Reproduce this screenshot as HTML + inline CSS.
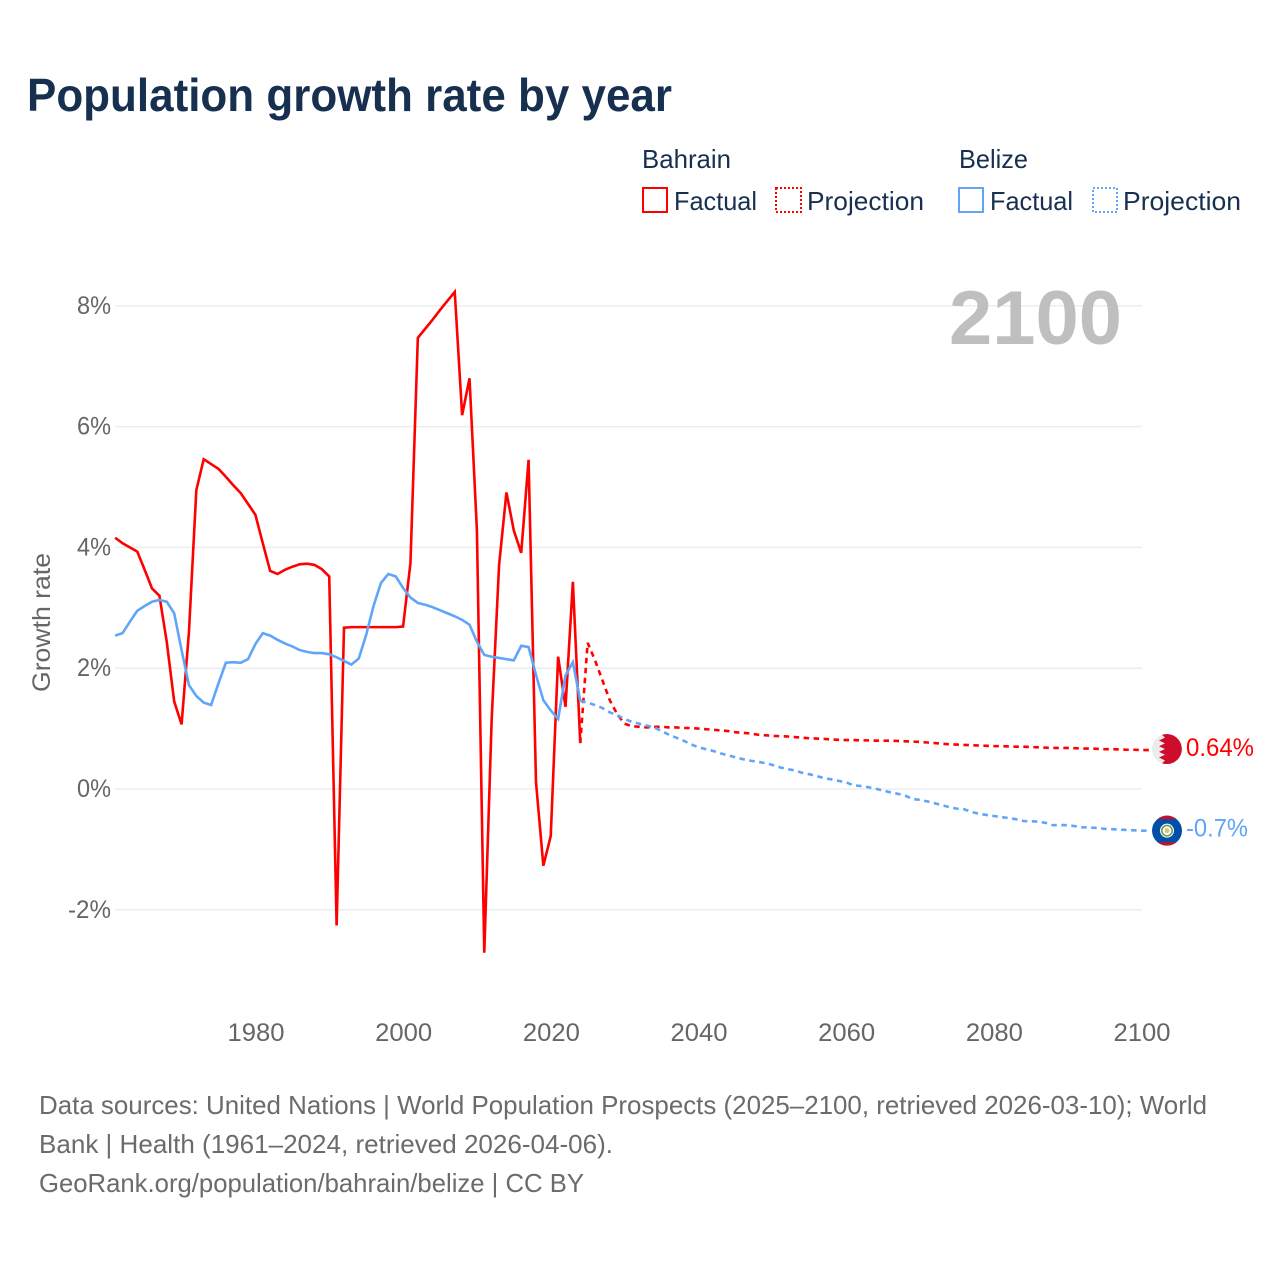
<!DOCTYPE html>
<html lang="en">
<head>
<meta charset="utf-8">
<title>Population growth rate by year</title>
<style>
html,body{margin:0;padding:0;background:#fff;}
svg{display:block;}
text{font-family:"Liberation Sans",sans-serif;}
</style>
</head>
<body>
<svg id="chart" width="1280" height="1280" viewBox="0 0 1280 1280" xmlns="http://www.w3.org/2000/svg">
<rect width="1280" height="1280" fill="#fff"/>
<text x="27" y="111" font-size="46" font-weight="700" fill="#18304f" textLength="645" lengthAdjust="spacingAndGlyphs">Population growth rate by year</text>

<g font-size="26" fill="#18304f">
<text x="642" y="168" textLength="89" lengthAdjust="spacingAndGlyphs">Bahrain</text>
<text x="959" y="168" textLength="69" lengthAdjust="spacingAndGlyphs">Belize</text>
<rect x="643" y="188" width="24" height="24" fill="none" stroke="#ff0000" stroke-width="2"/>
<text x="674" y="210" textLength="83" lengthAdjust="spacingAndGlyphs">Factual</text>
<rect x="776" y="188" width="25" height="24" fill="none" stroke="#ff0000" stroke-width="2" stroke-dasharray="2 2"/>
<text x="807" y="210" textLength="117" lengthAdjust="spacingAndGlyphs">Projection</text>
<rect x="959" y="188" width="24" height="24" fill="none" stroke="#60a5fa" stroke-width="2"/>
<text x="990" y="210" textLength="83" lengthAdjust="spacingAndGlyphs">Factual</text>
<rect x="1093" y="188" width="24" height="24" fill="none" stroke="#60a5fa" stroke-width="2" stroke-dasharray="2 2"/>
<text x="1123" y="210" textLength="118" lengthAdjust="spacingAndGlyphs">Projection</text>
</g>

<g id="grid"></g>
<g id="yticks"></g>
<g id="xticks"></g>

<text x="949" y="344" font-size="76" font-weight="700" fill="#bfbfbf" textLength="173" lengthAdjust="spacingAndGlyphs">2100</text>
<text transform="translate(50,622.5) rotate(-90)" text-anchor="middle" font-size="25" fill="#666666" textLength="139" lengthAdjust="spacingAndGlyphs">Growth rate</text>

<g id="series"></g>
<g id="ends"></g>

<g font-size="26" fill="#6b6b6b">
<text x="39" y="1114" textLength="1168" lengthAdjust="spacingAndGlyphs">Data sources: United Nations | World Population Prospects (2025–2100, retrieved 2026-03-10); World</text>
<text x="39" y="1153" textLength="574" lengthAdjust="spacingAndGlyphs">Bank | Health (1961–2024, retrieved 2026-04-06).</text>
<text x="39" y="1192" textLength="545" lengthAdjust="spacingAndGlyphs">GeoRank.org/population/bahrain/belize | CC BY</text>
</g>
</svg>
<script>
const yTickValues = [-2, 0, 2, 4, 6, 8];
const yTickLabels = ["-2%", "0%", "2%", "4%", "6%", "8%"];
const xTickYears = [1980, 2000, 2020, 2040, 2060, 2080, 2100];
const factualStartYear = 1961;
const projectionStartYear = 2024;
const bahrainFactual = [4.16,4.07,4.0,3.93,3.63,3.32,3.2,2.43,1.45,1.07,2.6,4.95,5.46,5.38,5.3,5.17,5.03,4.9,4.72,4.54,4.07,3.61,3.56,3.63,3.68,3.72,3.73,3.71,3.64,3.52,-2.26,2.67,2.68,2.68,2.68,2.68,2.68,2.68,2.68,2.69,3.74,7.47,7.62,7.77,7.93,8.08,8.23,6.19,6.8,4.29,-2.71,1.15,3.7,4.91,4.28,3.91,5.45,0.12,-1.27,-0.78,2.19,1.36,3.43,0.76];
const belizeFactual = [2.54,2.58,2.77,2.95,3.03,3.10,3.13,3.10,2.91,2.30,1.72,1.54,1.43,1.39,1.75,2.09,2.10,2.09,2.15,2.40,2.58,2.54,2.47,2.41,2.36,2.30,2.27,2.25,2.25,2.23,2.18,2.12,2.06,2.16,2.55,3.03,3.41,3.56,3.52,3.33,3.17,3.08,3.05,3.01,2.96,2.91,2.86,2.80,2.72,2.44,2.22,2.19,2.17,2.15,2.13,2.37,2.35,1.89,1.47,1.30,1.16,1.88,2.10,1.46];
const bahrainProjection = [0.76,2.42,2.13,1.8,1.47,1.24,1.08,1.04,1.03,1.02,1.03,1.03,1.02,1.02,1.01,1.01,1.00,0.99,0.98,0.97,0.96,0.94,0.93,0.92,0.90,0.89,0.88,0.875,0.87,0.86,0.85,0.84,0.835,0.83,0.82,0.815,0.81,0.81,0.805,0.805,0.80,0.80,0.80,0.795,0.79,0.785,0.78,0.77,0.76,0.75,0.74,0.735,0.73,0.725,0.72,0.715,0.71,0.71,0.705,0.70,0.70,0.695,0.69,0.685,0.68,0.68,0.68,0.675,0.67,0.67,0.665,0.66,0.66,0.655,0.65,0.65,0.645];
const belizeProjection = [1.46,1.43,1.39,1.34,1.27,1.22,1.16,1.11,1.08,1.05,1.02,0.96,0.90,0.85,0.80,0.74,0.69,0.66,0.63,0.59,0.56,0.525,0.495,0.47,0.45,0.43,0.40,0.36,0.33,0.31,0.27,0.245,0.215,0.18,0.16,0.135,0.11,0.06,0.05,0.03,0.005,-0.025,-0.055,-0.08,-0.11,-0.165,-0.18,-0.205,-0.235,-0.27,-0.30,-0.325,-0.335,-0.38,-0.41,-0.43,-0.447,-0.465,-0.48,-0.50,-0.53,-0.535,-0.54,-0.56,-0.60,-0.596,-0.60,-0.615,-0.634,-0.638,-0.645,-0.66,-0.665,-0.672,-0.678,-0.684,-0.69];
const endLabels = ["0.64%", "-0.7%"];

const NS = "http://www.w3.org/2000/svg";
const RED = "#ff0000";
const BLUE = "#60a5fa";
function xScale(year) { return 255.4 + (year - 1980) * (1142 - 256) / 120; }
function yScale(value) { return 789 - value * 60.4; }
function make(tag, parent, attrs) {
  const el = document.createElementNS(NS, tag);
  for (const k in attrs) el.setAttribute(k, attrs[k]);
  parent.appendChild(el);
  return el;
}
const grid = document.getElementById("grid");
const yticks = document.getElementById("yticks");
const xticks = document.getElementById("xticks");
const seriesG = document.getElementById("series");
const ends = document.getElementById("ends");

function labelWidth(s) {
  let w = 0;
  for (const c of s) w += c === "%" ? 19.75 : c === "-" ? 9 : c === "." ? 6.5 : 14.25;
  return w;
}

yTickValues.forEach(function (v, i) {
  const line = make("line", grid, {x1: 115, x2: 1142, y1: yScale(v), y2: yScale(v), stroke: "#ededed", "stroke-width": 1.5});
  
  
  const t = make("text", yticks, {x: 111 - labelWidth(yTickLabels[i]), y: yScale(v) + 8, "font-size": 25, fill: "#666666", textLength: labelWidth(yTickLabels[i]), lengthAdjust: "spacingAndGlyphs"});
  t.textContent = yTickLabels[i];
  
  
});

xTickYears.forEach(function (yr) {
  const t = make("text", xticks, {x: xScale(yr) + 0.6, y: 1041, "font-size": 25, fill: "#666666", "text-anchor": "middle", textLength: 57, lengthAdjust: "spacingAndGlyphs"});
  t.textContent = String(yr);
  
  
});

function linePath(startYear, values, extraX) {
  let d = "";
  values.forEach(function (v, i) {
    d += (i ? "L" : "M") + xScale(startYear + i).toFixed(2) + "," + yScale(v).toFixed(2);
  });
  if (extraX !== undefined) {
    d += "L" + extraX + "," + yScale(values[values.length - 1]).toFixed(2);
  }
  return d;
}

const bFact = make("path", seriesG, {d: linePath(factualStartYear, bahrainFactual), fill: "none", stroke: RED, "stroke-width": 2.6});


const bProj = make("path", seriesG, {d: linePath(projectionStartYear, bahrainProjection, 1150), fill: "none", stroke: RED, "stroke-width": 2.6, "stroke-dasharray": "5.5 4.5"});


const zFact = make("path", seriesG, {d: linePath(factualStartYear, belizeFactual), fill: "none", stroke: BLUE, "stroke-width": 2.6});


const zProj = make("path", seriesG, {d: linePath(projectionStartYear, belizeProjection, 1150), fill: "none", stroke: BLUE, "stroke-width": 2.6, "stroke-dasharray": "5.5 4.5"});



const flagX = 1167;
const bahrainY = yScale(bahrainProjection[bahrainProjection.length - 1]) - 1;
const belizeY = yScale(belizeProjection[belizeProjection.length - 1]);

/* Bahrain flag */
const bFlag = make("g", ends, {});


make("circle", bFlag, {cx: flagX, cy: bahrainY, r: 15, fill: "#ececec"});
const cy = bahrainY;
make("path", bFlag, {
  d: "M" + (flagX - 5) + "," + (cy - 14.2) + "A15,15 0 1 1 " + (flagX - 5) + "," + (cy + 14.2) +
     "L" + (flagX - 2) + "," + (cy + 11.4) + "L" + (flagX - 8) + "," + (cy + 8.5) +
     "L" + (flagX - 2) + "," + (cy + 5.7) + "L" + (flagX - 8) + "," + (cy + 2.8) +
     "L" + (flagX - 2) + "," + cy + "L" + (flagX - 8) + "," + (cy - 2.8) +
     "L" + (flagX - 2) + "," + (cy - 5.7) + "L" + (flagX - 8) + "," + (cy - 8.5) +
     "L" + (flagX - 2) + "," + (cy - 11.4) + "Z",
  fill: "#d00c2c"
});

/* Belize flag */
const zFlag = make("g", ends, {});


make("circle", zFlag, {cx: flagX, cy: belizeY, r: 15, fill: "#0050a8"});
make("path", zFlag, {d: "M" + (flagX - 9.5) + "," + (belizeY - 11.6) + "A15,15 0 0 1 " + (flagX + 9.5) + "," + (belizeY - 11.6) + "Z", fill: "#c8102e"});
make("path", zFlag, {d: "M" + (flagX - 9.5) + "," + (belizeY + 11.6) + "A15,15 0 0 0 " + (flagX + 9.5) + "," + (belizeY + 11.6) + "Z", fill: "#c8102e"});
make("circle", zFlag, {cx: flagX, cy: belizeY, r: 7, fill: "#ffffff"});
make("circle", zFlag, {cx: flagX, cy: belizeY, r: 5.2, fill: "none", stroke: "#6f9a5a", "stroke-width": 1.6});
make("circle", zFlag, {cx: flagX, cy: belizeY, r: 2.5, fill: "#d8c67a"});

const bLabel = make("text", ends, {x: 1186, y: bahrainY + 7, "font-size": 25, fill: RED, textLength: 68, lengthAdjust: "spacingAndGlyphs"});
bLabel.textContent = endLabels[0];


const zLabel = make("text", ends, {x: 1186, y: belizeY + 6, "font-size": 25, fill: BLUE, textLength: 62, lengthAdjust: "spacingAndGlyphs"});
zLabel.textContent = endLabels[1];


</script>
</body>
</html>
